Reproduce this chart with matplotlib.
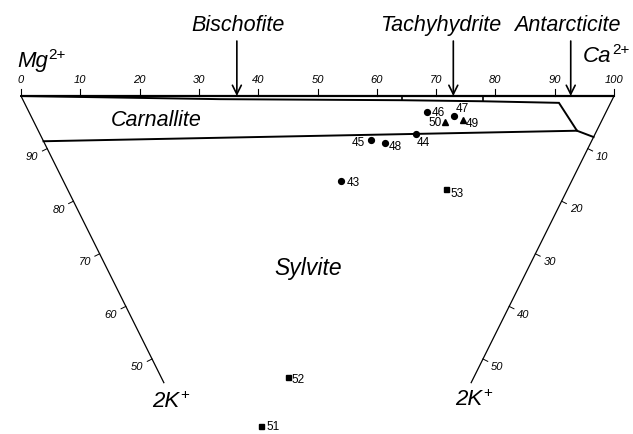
import numpy as np
import matplotlib
matplotlib.use("Agg")
import matplotlib.pyplot as plt

plt.rcParams['font.family'] = ['Liberation Sans', 'DejaVu Sans']

# Sample compositions in % of Mg2+, Ca2+ and 2K+
sample_ids = ['43', '44', '45', '46', '47', '48', '49', '50', '51', '52', '53']
mg = [38.1, 30.0, 36.9, 30.1, 25.2, 34.3, 23.4, 26.1, 26.6, 27.7, 20.0]
ca = [45.8, 62.8, 54.7, 66.9, 71.0, 56.8, 72.1, 68.9, 10.6, 18.8, 62.3]
k = [16.1, 7.2, 8.4, 3.0, 3.8, 8.9, 4.5, 5.0, 62.8, 53.5, 17.7]
sample_marker = ['o', 'o', 'o', 'o', 'o', 'o', '^', '^', 's', 's', 's']

# Carnallite field boundaries
carn_upper_mg = [100.0, 66.1, 35.4, 21.6, 8.7, 3.3, 0.0]
carn_upper_ca = [0.0, 33.3, 63.8, 77.4, 90.0, 90.1, 92.2]
carn_upper_k = [0.0, 0.6, 0.8, 1.0, 1.3, 6.6, 7.8]
carn_lower_mg = [91.4, 3.3]
carn_lower_ca = [0.0, 90.1]
carn_lower_k = [8.6, 6.6]

# Tachyhydrite limits on the Mg-Ca side (% Ca)
tachy_limits = [64.2, 77.9]

# Pure chloride phases on the Mg-Ca side
minerals = ['Bischofite', 'Tachyhydrite', 'Antarcticite']
mineral_ca = [36.4, 72.9, 92.7]
mineral_text_dx = [0.2, -2.2, -0.5]

top_ticks = [0, 10, 20, 30, 40, 50, 60, 70, 80, 90, 100]
side_ticks = [10, 20, 30, 40, 50]

# shift of the sides per % K
SIDE_DX = 0.442
SIDE_DY = 0.887
K_END = 54.5


def to_xy(mg, ca, k):
    mg = np.asarray(mg, float)
    ca = np.asarray(ca, float)
    k = np.asarray(k, float)
    r = ca / (mg + ca)
    xl = SIDE_DX * k
    xr = 100 - SIDE_DX * k
    return xl + r * (xr - xl), -SIDE_DY * k


def ion_label(x, y, base, charge):
    t = ax.text(x, y, base, ha='left', va='baseline', fontsize=16, style='italic')
    ax.annotate(charge, xy=(1, 1), xycoords=t, xytext=(0.5, 2), textcoords='offset points',
                ha='left', va='top', fontsize=11)


fig = plt.figure(figsize=(6.33, 4.35), dpi=100)
ax = fig.add_axes([0, 0, 1, 1])
ax.set_xlim(-3.54, 103.2)
ax.set_ylim(-57.0, 16.36)
ax.axis('off')

# frame: top Mg-Ca axis and the two sides down towards 2K+
ax.plot([0, 100], [0, 0], color='black', lw=1.6, solid_capstyle='butt')
lx, ly = to_xy([100, 100], [0, 0], [0, K_END])
rx, ry = to_xy([0, 0], [100, 100], [0, K_END])
ax.plot(lx, ly, color='black', lw=0.9)
ax.plot(rx, ry, color='black', lw=0.9)

for t in top_ticks:
    ax.plot([t, t], [0, 1.1], color='black', lw=0.8)
    ax.text(t, 2.9, str(t), ha='center', va='center', fontsize=8, style='italic')

nl = np.array([-0.895, -0.446])
nr = np.array([0.895, -0.446])
for t in side_ticks:
    x, y = to_xy(100, 0, t)
    ax.plot([x, x + 0.9 * nl[0]], [y, y + 0.9 * nl[1]], color='black', lw=0.7)
    ax.text(x + 2.8 * nl[0], y + 2.8 * nl[1], str(100 - t), ha='center', va='center',
            fontsize=8, style='italic')
    x, y = to_xy(0, 100, t)
    ax.plot([x, x + 0.9 * nr[0]], [y, y + 0.9 * nr[1]], color='black', lw=0.7)
    ax.text(x + 2.7 * nr[0], y + 2.7 * nr[1], str(t), ha='center', va='center',
            fontsize=8, style='italic')

# carnallite field
ux, uy = to_xy(carn_upper_mg, carn_upper_ca, carn_upper_k)
ax.plot(ux, uy, color='black', lw=1.4, solid_joinstyle='miter')
bx, by = to_xy(carn_lower_mg, carn_lower_ca, carn_lower_k)
ax.plot(bx, by, color='black', lw=1.4)
for c in tachy_limits:
    ax.plot([c, c], [0, np.interp(c, ux, uy)], color='black', lw=1.2)

for name, c, dx in zip(minerals, mineral_ca, mineral_text_dx):
    ax.annotate('', xy=(c, 0), xytext=(c, 9.27),
                arrowprops=dict(arrowstyle='->', lw=1.2, color='black',
                                shrinkA=0, shrinkB=0, mutation_scale=16))
    ax.text(c + dx, 11.1, name, ha='center', va='baseline', fontsize=15.5, style='italic')

# samples
label_offsets = {
    '43': (4, -1), '44': (1, -6), '45': (-4, -1.5), '46': (3.5, 0), '47': (1, 5.5),
    '48': (2.5, -2), '49': (2, -2.5), '50': (-2.5, 0), '51': (4, 0), '52': (3, -1),
    '53': (3, -2.5),
}
sx, sy = to_xy(mg, ca, k)
for sid, x, y, m in zip(sample_ids, sx, sy, sample_marker):
    size = {'o': 4.2, '^': 5, 's': 3.6}[m]
    ax.plot(x, y, marker=m, ms=size, color='black', linestyle='none')
    ox, oy = label_offsets[sid]
    ax.annotate(sid, (x, y), xytext=(ox, oy), textcoords='offset points',
                ha='right' if ox < 0 else 'left', va='center', fontsize=8.5)

# corner and field names
ion_label(-0.67, 5.06, 'Mg', '2+')
ion_label(94.8, 5.9, 'Ca', '2+')
ion_label(22.1, -52.3, '2K', '+')
ion_label(73.2, -51.9, '2K', '+')
ax.text(22.85, -3.96, 'Carnallite', ha='center', va='center', fontsize=15.5, style='italic')
ax.text(48.4, -29.0, 'Sylvite', ha='center', va='center', fontsize=16.5, style='italic')

fig.savefig('out.png', dpi=100)
